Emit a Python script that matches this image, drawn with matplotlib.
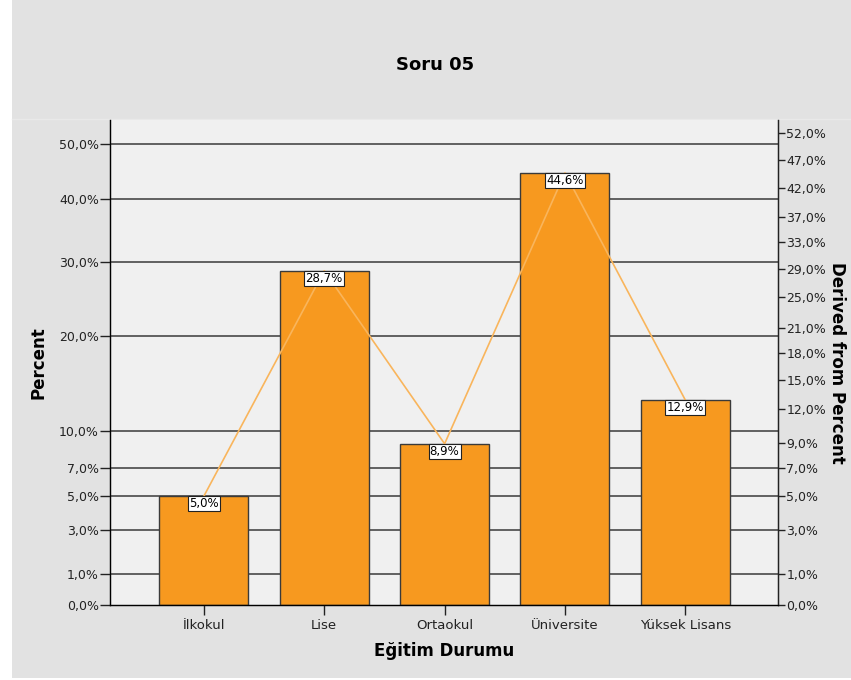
import numpy as np
import matplotlib
matplotlib.use('Agg')
import matplotlib.pyplot as plt
from matplotlib.patches import Rectangle
from matplotlib.lines import Line2D
from matplotlib.ticker import FixedLocator, FuncFormatter

plt.rcParams['font.family'] = ['DejaVu Sans']

# education level vs. percent of respondents
categories = ['İlkokul', 'Lise', 'Ortaokul', 'Üniversite', 'Yüksek Lisans']
percents = [5.0, 28.7, 8.9, 44.6, 12.9]
left_ticks = [0, 1, 3, 5, 7, 10, 20, 30, 40, 50]
right_ticks = [0, 1, 3, 5, 7, 9, 12, 15, 18, 21, 25, 29, 33, 37, 42, 47, 52]

BAR_COLOR = '#f7991f'
LINE_COLOR = '#f9b55c'
PANEL_BG = '#e2e2e2'
PLOT_BG = '#f0f0f0'
TEXT = '#222222'


# safe power scale (exponent 0.5)
def fwd(v):
    v = np.asarray(v, dtype=float)
    return np.sign(v) * (np.sqrt(1 + np.abs(v)) - 1)


def inv(v):
    v = np.asarray(v, dtype=float)
    return np.sign(v) * ((np.abs(v) + 1) ** 2 - 1)


def pct(v, pos=None):
    return f'{v:.1f}'.replace('.', ',') + '%'


fig = plt.figure(figsize=(8.51, 6.80), dpi=100, facecolor='white')
fig.add_artist(Rectangle((12 / 851, 2 / 680), 1 - 12 / 851, 1 - 2 / 680,
                         transform=fig.transFigure, facecolor=PANEL_BG,
                         edgecolor='none', zorder=-10))
fig.add_artist(Line2D([12 / 851, 1], [1 - 119 / 680] * 2, transform=fig.transFigure,
                      color='#e9e9e9', lw=1.0, zorder=-5))

ax = fig.add_axes([110 / 851, 1 - 605 / 680, (778 - 110) / 851, (605 - 120) / 680])
ax.set_facecolor(PLOT_BG)
ax.set_yscale('function', functions=(fwd, inv))
ax.set_ylim(0, 54.6)
x = np.arange(len(categories))
ax.set_xlim(-0.78, len(categories) - 1 + 0.77)

for t in left_ticks[1:]:
    ax.axhline(t, color='#3a3a3a', lw=1.1, zorder=1)

ax.bar(x, percents, width=0.74, color=BAR_COLOR, edgecolor='#3a3a3a', lw=1.0, zorder=2)
ax.plot(x, percents, color=LINE_COLOR, lw=1.2, zorder=3)

for xi, v in zip(x, percents):
    ax.annotate(pct(v), (xi, v), xytext=(0, -0.8), textcoords='offset points',
                ha='center', va='top', fontsize=8.5, color='black', zorder=4,
                bbox=dict(boxstyle='square,pad=0.1', facecolor='white',
                          edgecolor=TEXT, lw=0.8))

ax.yaxis.set_major_locator(FixedLocator(left_ticks))
ax.yaxis.set_major_formatter(FuncFormatter(pct))
ax.yaxis.set_minor_locator(FixedLocator([]))
ax.set_xticks(x)
ax.set_xticklabels(categories)
ax.tick_params(axis='y', length=7, width=1, labelsize=9, colors=TEXT, pad=1)
ax.tick_params(axis='x', length=7, width=1, labelsize=9.5, colors=TEXT, pad=3)

for side in ('left', 'right', 'bottom'):
    ax.spines[side].set_color(TEXT)
    ax.spines[side].set_linewidth(1.0)
ax.spines['top'].set_visible(False)

ax.set_ylabel('Percent', fontsize=12, fontweight='bold', labelpad=8)
ax.set_xlabel('Eğitim Durumu', fontsize=12, fontweight='bold', labelpad=7)

ax2 = ax.twinx()
ax2.set_yscale('function', functions=(fwd, inv))
ax2.set_ylim(ax.get_ylim())
ax2.yaxis.set_major_locator(FixedLocator(right_ticks))
ax2.yaxis.set_major_formatter(FuncFormatter(pct))
ax2.yaxis.set_minor_locator(FixedLocator([]))
ax2.tick_params(axis='y', length=5, width=1, labelsize=9, colors=TEXT, pad=1)
ax2.spines['top'].set_visible(False)
ax2.spines['right'].set_color(TEXT)
ax2.set_ylabel('Derived from Percent', fontsize=12, fontweight='bold',
               rotation=270, labelpad=14)

fig.text(435 / 851, 1 - 65 / 680, 'Soru 05', ha='center', va='center',
         fontsize=13, fontweight='bold')

fig.savefig('out.png', dpi=100, facecolor=fig.get_facecolor())
